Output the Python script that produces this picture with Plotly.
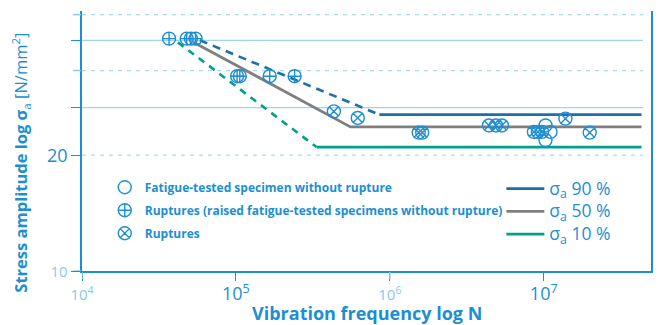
import plotly.graph_objects as go

# ---------------- data ----------------
N_no_rupture = [1.027e7, 1.027e7, 1.107e7]
S_no_rupture = [23.9, 21.9, 23.0]

N_raised = [3.68e4, 4.79e4, 5.10e4, 5.47e4, 1.018e5, 1.06e5, 1.658e5, 2.407e5]
S_raised = [40.2, 40.2, 40.2, 40.2, 32.1, 32.1, 32.1, 32.1]

N_rupt = [4.33e5, 6.19e5, 1.541e6, 1.624e6, 4.41e6, 4.90e6, 5.35e6,
          8.63e6, 9.16e6, 9.76e6, 1.384e7, 1.99e7]
S_rupt = [26.0, 25.0, 22.9, 22.9, 23.9, 23.9, 23.9,
          23.0, 23.0, 23.0, 24.9, 22.9]

# S-N curves (sloped part, horizontal part)
N90_slope = [5.83e4, 8.55e5]
S90_slope = [39.8, 25.5]
N90_flat = [8.55e5, 4.32e7]
S90_flat = [25.5, 25.5]

N50 = [5.26e4, 5.55e5, 4.32e7]
S50 = [39.4, 23.7, 23.7]

N10_slope = [4.2e4, 3.34e5]
S10_slope = [39.3, 21.0]
N10_flat = [3.34e5, 4.32e7]
S10_flat = [21.0, 21.0]

x_tickvals = [1e4, 1e5, 1e6, 1e7]
x_ticktext = ["<span style='color:#86c9ee;font-size:15px'>10<sup>4</sup></span>",
              "10<sup>5</sup>",
              "<span style='color:#86c9ee;font-size:15px'>10<sup>6</sup></span>",
              "10<sup>7</sup>"]
x_light_ticks = [1e4, 1e6]
y_tickvals = [10, 20, 26.6, 39.8]
y_ticktext = ["<span style='color:#86c9ee;font-size:15px'>10</span>", "20", "", ""]
grid_solid = [26.6, 39.8]
grid_dashed = [20, 33.2, 46.4]
y_light_ticks = [10, 33.2, 46.4]

# ---------------- style ----------------
BLUE = "#1b8fd2"
LIGHT = "#86c9ee"
C90 = "#1d6fa5"
C50 = "#7f7f7f"
C10 = "#00a08d"
FONT = "Open Sans"
PLOT_W = 661 - 82 - 8
PLOT_H = 325 - 11 - 54


def q(txt):
    return "<span style='font-size:17.5px'>" + txt + "</span>"


fig = go.Figure()

# curves
fig.add_trace(go.Scatter(x=N90_slope, y=S90_slope, mode="lines",
                         line=dict(color=C90, width=2.6, dash="8px,6px"),
                         showlegend=False, hoverinfo="skip"))
fig.add_trace(go.Scatter(x=N10_slope, y=S10_slope, mode="lines",
                         line=dict(color=C10, width=2.6, dash="7px,6px"),
                         showlegend=False, hoverinfo="skip"))
fig.add_trace(go.Scatter(x=N90_flat, y=S90_flat, mode="lines",
                         line=dict(color=C90, width=2.8),
                         name=q("σ<sub>a</sub> 90 %"), legend="legend2"))
fig.add_trace(go.Scatter(x=N50, y=S50, mode="lines",
                         line=dict(color=C50, width=2.8),
                         name=q("σ<sub>a</sub> 50 %"), legend="legend2"))
fig.add_trace(go.Scatter(x=N10_flat, y=S10_flat, mode="lines",
                         line=dict(color=C10, width=2.8),
                         name=q("σ<sub>a</sub> 10 %"), legend="legend2"))

# markers
mk = dict(size=13, color=BLUE, line=dict(color=BLUE, width=1.4))
fig.add_trace(go.Scatter(x=N_no_rupture, y=S_no_rupture, mode="markers",
                         marker=dict(symbol="circle-open", **mk),
                         name="<b>Fatigue-tested specimen without rupture</b>",
                         legendgroup="a", legend="legend"))
fig.add_trace(go.Scatter(x=N_raised, y=S_raised, mode="markers",
                         marker=dict(symbol="circle-cross-open", **mk),
                         name="<b>Ruptures (raised fatigue-tested specimens without rupture)</b>",
                         legendgroup="b", legend="legend"))
fig.add_trace(go.Scatter(x=N_rupt, y=S_rupt, mode="markers",
                         marker=dict(symbol="circle-x-open", **mk),
                         name="<b>Ruptures</b>",
                         legendgroup="c", legend="legend"))

# grid lines and light tick marks
shapes = []
for v in grid_solid:
    shapes.append(dict(type="line", xref="paper", yref="y", x0=0, x1=0.986,
                       y0=v, y1=v, layer="below",
                       line=dict(color="#a3d3ef", width=1.3)))
for v in grid_dashed:
    shapes.append(dict(type="line", xref="paper", yref="y", x0=0, x1=0.986,
                       y0=v, y1=v, layer="below",
                       line=dict(color="#aad8f2", width=1.3, dash="4px,5px")))
for v in y_light_ticks:
    shapes.append(dict(type="line", xref="paper", yref="y", x0=-9 / PLOT_W,
                       x1=-1 / PLOT_W, y0=v, y1=v, layer="above",
                       line=dict(color=LIGHT, width=1.4)))
for v in x_light_ticks:
    shapes.append(dict(type="line", xref="x", yref="paper", x0=v, x1=v,
                       y0=-8 / PLOT_H, y1=-1 / PLOT_H, layer="above",
                       line=dict(color=LIGHT, width=1.4)))

fig.update_layout(
    width=661, height=325,
    margin=dict(l=82, r=8, t=11, b=54),
    paper_bgcolor="white", plot_bgcolor="white",
    font=dict(family=FONT, color=BLUE),
    shapes=shapes,
    xaxis=dict(type="log", range=[4, 7.697], showgrid=False, zeroline=False,
               showline=True, linecolor=BLUE, linewidth=1.5,
               tickmode="array", tickvals=x_tickvals, ticktext=x_ticktext,
               ticks="outside", ticklen=8, tickwidth=1.3, tickcolor=BLUE,
               ticklabelstandoff=-2,
               tickfont=dict(size=18, color=BLUE, family=FONT)),
    yaxis=dict(type="log", range=[1, 1.676], showgrid=False, zeroline=False,
               showline=True, linecolor=BLUE, linewidth=1.5, mirror=True,
               tickmode="array", tickvals=y_tickvals, ticktext=y_ticktext,
               ticks="outside", ticklen=9, tickwidth=1.3, tickcolor=BLUE,
               tickfont=dict(size=18, color=BLUE, family=FONT)),
    legend=dict(x=0.040, y=0.378,
                xanchor="left", yanchor="top", bgcolor="rgba(0,0,0,0)",
                font=dict(size=12, color=BLUE, family=FONT),
                tracegroupgap=4, itemsizing="trace"),
    legend2=dict(x=0.737, y=0.380, itemwidth=38,
                 xanchor="left", yanchor="top", bgcolor="rgba(0,0,0,0)",
                 font=dict(size=15.2, color=BLUE, family=FONT)),
    annotations=[
        dict(text="<b>Vibration frequency log N</b>", xref="paper", yref="paper",
             x=0.5, y=-0.163, xanchor="center", yanchor="middle", showarrow=False,
             font=dict(size=18, color=BLUE, family=FONT)),
        dict(text="<b>Stress amplitude log σ</b><sub>a</sub> [N/mm<sup>2</sup>]",
             xref="paper", yref="paper", x=-0.108, y=0.415, textangle=-90,
             xanchor="center", yanchor="middle", showarrow=False,
             font=dict(size=16.5, color=BLUE, family=FONT)),
    ],
)

fig.write_html("out.html")
